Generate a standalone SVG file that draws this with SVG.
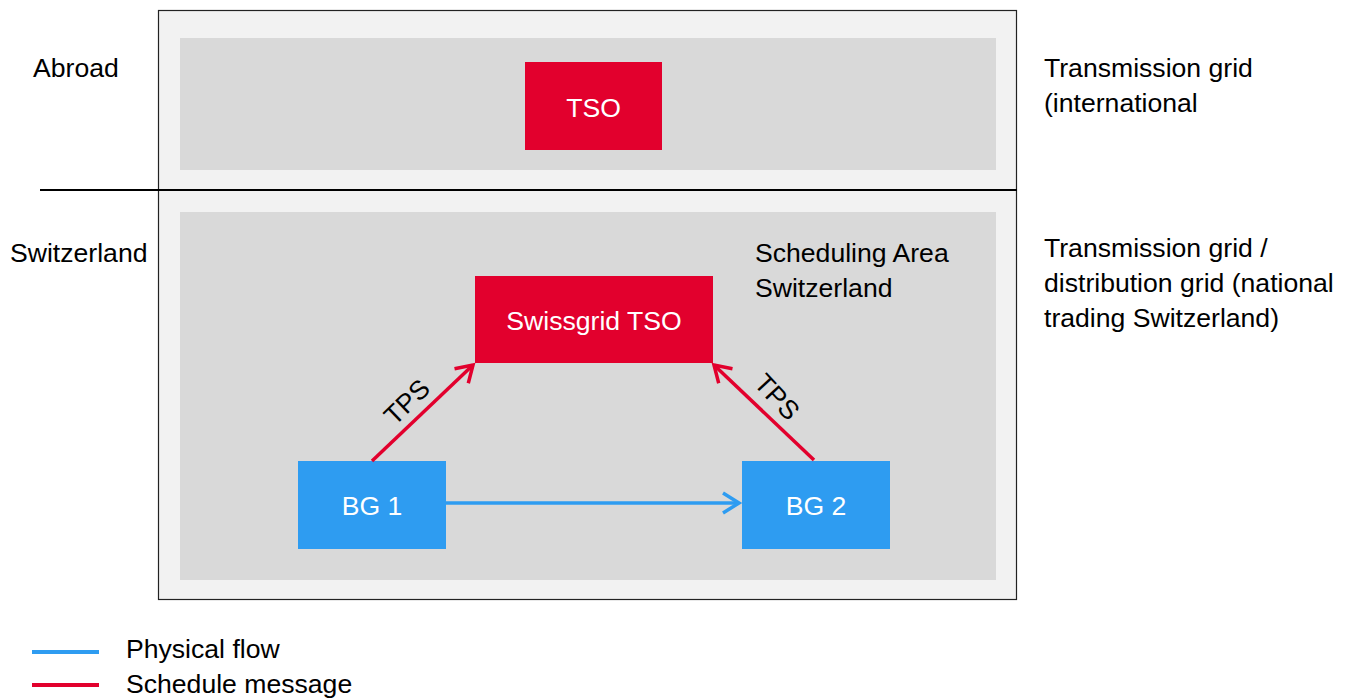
<svg xmlns="http://www.w3.org/2000/svg" width="1352" height="699" viewBox="0 0 1352 699">
<style>
text{font-family:"Liberation Sans",Arial,sans-serif;font-size:26.6px;fill:#000}
.w{fill:#fff}
.red{fill:#e2002d}
.blue{fill:#2e9cf1}
.inner{fill:#d9d9d9}
.cr{stroke:#e2002d;stroke-width:3.5;fill:none}
.cb{stroke:#2e9cf1;stroke-width:3.5;fill:none}
</style>
<defs>
<marker id="ar" markerUnits="userSpaceOnUse" viewBox="-20 -12 24 24" refX="0" refY="0" markerWidth="24" markerHeight="24" orient="auto"><path d="M-16,-10 L0,0 L-16,10" fill="none" stroke="#e2002d" stroke-width="3.5"/></marker>
<marker id="ab" markerUnits="userSpaceOnUse" viewBox="-20 -12 24 24" refX="0" refY="0" markerWidth="24" markerHeight="24" orient="auto"><path d="M-16,-10 L0,0 L-16,10" fill="none" stroke="#2e9cf1" stroke-width="3.5"/></marker>
</defs>
<g id="frame">
<rect x="158.5" y="10.5" width="858" height="589" fill="#f2f2f2" stroke="#222" stroke-width="1.2"/>
<rect class="inner" x="180" y="38" width="816" height="132"/>
<rect class="inner" x="180" y="212" width="816" height="368"/>
<line x1="40" y1="190" x2="1017" y2="190" stroke="#000" stroke-width="2"/>
</g>
<g id="labels">
<text x="33" y="77">Abroad</text>
<text x="10" y="262">Switzerland</text>
<text x="1044" y="77">Transmission grid</text>
<text x="1044" y="112">(international</text>
<text x="1044" y="257">Transmission grid /</text>
<text x="1044" y="292">distribution grid (national</text>
<text x="1044" y="327">trading Switzerland)</text>
<text x="755" y="262">Scheduling Area</text>
<text x="755" y="297">Switzerland</text>
</g>
<g id="tso">
<rect class="red" x="525" y="62" width="137" height="88"/>
<text class="w" x="593.5" y="117" text-anchor="middle">TSO</text>
</g>
<g id="swissgrid">
<rect class="red" x="475" y="276" width="238" height="87"/>
<text class="w" x="594" y="330" text-anchor="middle">Swissgrid TSO</text>
</g>
<g id="bg1">
<rect class="blue" x="298" y="461" width="148" height="88"/>
<text class="w" x="372" y="515" text-anchor="middle">BG 1</text>
</g>
<g id="bg2">
<rect class="blue" x="742" y="461" width="148" height="88"/>
<text class="w" x="816" y="515" text-anchor="middle">BG 2</text>
</g>
<g id="connectors">
<line class="cb" x1="446" y1="503" x2="739" y2="503" marker-end="url(#ab)"/>
<line class="cr" x1="372" y1="461" x2="473" y2="365" marker-end="url(#ar)"/>
<line class="cr" x1="814" y1="460" x2="714" y2="365" marker-end="url(#ar)"/>
<text x="0" y="0" transform="translate(407,402) rotate(-44)" text-anchor="middle" dominant-baseline="central">TPS</text>
<text x="0" y="0" transform="translate(777,397) rotate(47)" text-anchor="middle" dominant-baseline="central">TPS</text>
</g>
<g id="legend">
<line x1="32" y1="652" x2="99" y2="652" stroke="#2e9cf1" stroke-width="4"/>
<line x1="32" y1="685" x2="99" y2="685" stroke="#e2002d" stroke-width="4"/>
<text x="126" y="658">Physical flow</text>
<text x="126" y="693">Schedule message</text>
</g>
</svg>
